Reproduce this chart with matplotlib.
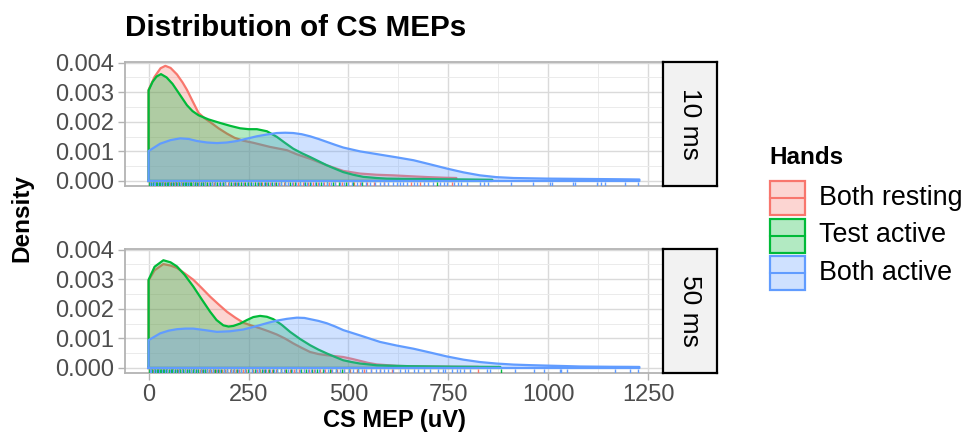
import matplotlib
matplotlib.use("Agg")
import matplotlib.pyplot as plt
from matplotlib.patches import Rectangle
from matplotlib.lines import Line2D
from matplotlib.ticker import MultipleLocator, FormatStrFormatter

plt.rcParams['font.family'] = ['Liberation Sans', 'DejaVu Sans']

# =========================
# Data
# =========================

GROUPS = ["Both resting", "Test active", "Both active"]
COLORS = ["#F8766D", "#00BA38", "#619CFF"]
PANELS = ["10 ms", "50 ms"]

# densities are in units of 1e-3
# --- 10 ms ---
red_10_x = [0, 15, 30, 42, 55, 71, 85, 96, 110, 125, 140, 154, 175, 196, 215, 237, 262, 304,
            346, 371, 404, 446, 487, 529, 571, 612, 654, 700, 740, 770]
red_10_y = [3.08, 3.52, 3.81, 3.89, 3.82, 3.60, 3.33, 3.08, 2.70, 2.30, 2.12, 1.99, 1.78, 1.60,
            1.46, 1.36, 1.29, 1.15, 1.04, 0.90, 0.75, 0.53, 0.34, 0.25, 0.21, 0.19, 0.16, 0.13,
            0.11, 0.10]
green_10_x = [0, 10, 20, 31, 45, 60, 71, 85, 96, 110, 125, 150, 179, 205, 229, 250, 271, 296,
              321, 340, 362, 383, 404, 425, 446, 467, 487, 512, 537, 570, 596, 650, 720, 800, 860]
green_10_y = [3.06, 3.35, 3.53, 3.61, 3.50, 3.28, 3.06, 2.78, 2.56, 2.36, 2.22, 2.08, 1.96, 1.86,
              1.78, 1.75, 1.75, 1.68, 1.49, 1.30, 1.09, 0.94, 0.81, 0.67, 0.53, 0.41, 0.30, 0.21,
              0.14, 0.10, 0.08, 0.07, 0.06, 0.05, 0.04]
blue_10_x = [0, 29, 55, 79, 100, 121, 146, 171, 196, 221, 246, 271, 296, 321, 342, 362, 383,
             404, 425, 446, 467, 487, 529, 579, 620, 663, 705, 746, 788, 829, 870, 913, 955, 996,
             1040, 1079, 1120, 1163, 1200, 1228]
blue_10_y = [1.01, 1.26, 1.38, 1.44, 1.42, 1.35, 1.30, 1.28, 1.30, 1.35, 1.43, 1.51, 1.57, 1.62,
             1.63, 1.62, 1.58, 1.51, 1.42, 1.32, 1.22, 1.13, 1.00, 0.89, 0.80, 0.70, 0.56, 0.42,
             0.29, 0.19, 0.13, 0.10, 0.09, 0.08, 0.075, 0.07, 0.065, 0.06, 0.055, 0.05]

# --- 50 ms ---
red_50_x = [0, 15, 37, 55, 71, 90, 112, 133, 154, 175, 196, 217, 237, 258, 279, 300, 321, 342,
            362, 383, 404, 425, 446, 467, 487, 508, 529, 550, 571, 621, 654, 700, 760, 825]
red_50_y = [2.96, 3.30, 3.51, 3.46, 3.38, 3.20, 2.98, 2.70, 2.41, 2.15, 1.90, 1.70, 1.53, 1.43,
            1.34, 1.24, 1.13, 0.99, 0.83, 0.68, 0.54, 0.47, 0.43, 0.40, 0.37, 0.31, 0.24, 0.17,
            0.12, 0.07, 0.06, 0.05, 0.04, 0.035]
green_50_x = [0, 15, 37, 55, 71, 90, 112, 133, 154, 170, 187, 200, 212, 229, 246, 262, 279, 296,
              312, 333, 354, 379, 404, 425, 446, 467, 487, 508, 529, 571, 654, 760, 880]
green_50_y = [2.98, 3.42, 3.64, 3.57, 3.43, 3.15, 2.75, 2.32, 1.90, 1.62, 1.44, 1.40, 1.42, 1.50,
              1.62, 1.72, 1.76, 1.73, 1.65, 1.46, 1.22, 0.98, 0.77, 0.62, 0.49, 0.37, 0.26, 0.20,
              0.15, 0.09, 0.06, 0.045, 0.035]
blue_50_x = [0, 29, 50, 71, 92, 112, 140, 171, 204, 237, 258, 279, 300, 321, 346, 371, 390, 404,
             425, 446, 467, 487, 529, 579, 620, 663, 705, 746, 788, 829, 870, 913, 955, 996, 1040,
             1079, 1120, 1163, 1200, 1228]
blue_50_y = [0.94, 1.17, 1.26, 1.31, 1.33, 1.33, 1.28, 1.22, 1.24, 1.30, 1.37, 1.45, 1.53, 1.60,
             1.66, 1.70, 1.69, 1.65, 1.59, 1.51, 1.40, 1.28, 1.10, 0.88, 0.76, 0.65, 0.52, 0.39,
             0.28, 0.20, 0.15, 0.114, 0.095, 0.08, 0.065, 0.05, 0.045, 0.04, 0.038, 0.035]

# rug positions (uV)
red_10_rug = [1, 3, 7, 11, 15, 19, 22, 26, 30, 34, 38, 41, 45, 49, 53, 57, 61, 64, 68, 72, 76,
              80, 84, 89, 93, 97, 102, 106, 110, 115, 119, 124, 130, 136, 141, 147, 152, 158,
              164, 171, 178, 185, 192, 199, 206, 214, 222, 231, 239, 248, 257, 266, 275, 284,
              294, 305, 316, 327, 338, 350, 361, 373, 386, 398, 411, 424, 438, 452, 467, 483,
              498, 514, 530, 546, 563, 590, 656, 678, 758]
green_10_rug = [2, 6, 10, 14, 18, 22, 25, 29, 33, 37, 41, 45, 48, 52, 56, 61, 65, 69, 73, 77,
                81, 85, 90, 94, 98, 103, 107, 111, 116, 121, 126, 131, 136, 142, 147, 153, 159,
                166, 172, 178, 185, 192, 200, 207, 215, 223, 231, 240, 248, 257, 265, 274, 282,
                291, 300, 310, 320, 331, 342, 354, 366, 378, 391, 404, 418, 431, 446, 461, 477,
                494, 512, 535, 721]
blue_10_rug = [4, 8, 13, 17, 24, 31, 37, 44, 51, 58, 65, 73, 80, 88, 95, 102, 110, 118, 126,
               134, 142, 150, 159, 167, 175, 183, 192, 201, 210, 219, 227, 236, 245, 253, 262,
               271, 280, 288, 297, 306, 314, 323, 332, 341, 350, 360, 369, 378, 388, 397, 407,
               416, 426, 436, 446, 457, 467, 478, 488, 499, 510, 521, 532, 543, 555, 566, 578,
               589, 600, 611, 621, 629, 636, 646, 663, 671, 688, 698, 711, 729, 738, 746, 763,
               775, 781, 796, 828, 838, 849, 907, 961, 1004, 1010, 1063, 1068, 1121, 1132, 1142,
               1193, 1224]

red_50_rug = [2, 4, 8, 12, 16, 20, 23, 27, 31, 35, 39, 43, 47, 51, 55, 58, 62, 66, 70, 74, 78,
              83, 87, 92, 96, 100, 105, 110, 114, 119, 124, 129, 134, 140, 145, 151, 157, 163,
              169, 176, 183, 190, 197, 204, 211, 219, 227, 235, 243, 252, 261, 270, 279, 289,
              299, 309, 320, 331, 342, 353, 365, 377, 389, 402, 415, 428, 442, 457, 472, 489,
              505, 521, 538, 556, 580, 610, 825]
green_50_rug = [1, 5, 9, 13, 17, 21, 24, 28, 32, 36, 39, 43, 47, 51, 55, 59, 62, 66, 70, 75, 79,
                83, 87, 92, 96, 101, 105, 110, 114, 119, 124, 130, 135, 141, 147, 154, 160, 167,
                174, 181, 189, 197, 205, 213, 222, 231, 240, 249, 258, 266, 275, 283, 292, 301,
                311, 321, 332, 344, 356, 368, 381, 394, 408, 422, 437, 453, 469, 485, 502, 525,
                882]
blue_50_rug = [3, 7, 13, 19, 26, 33, 40, 47, 54, 61, 68, 76, 83, 91, 98, 106, 114, 122, 130, 138,
               146, 154, 162, 171, 179, 188, 196, 205, 214, 223, 232, 241, 250, 259, 268, 277,
               286, 295, 304, 313, 322, 331, 340, 350, 359, 369, 378, 388, 398, 407, 417, 427,
               438, 448, 459, 469, 480, 490, 501, 512, 523, 534, 545, 557, 568, 580, 589, 598,
               612, 628, 642, 650, 664, 675, 688, 703, 725, 736, 742, 758, 771, 779, 789, 804,
               846, 854, 917, 965, 989, 1029, 1033, 1046, 1168, 1204, 1225]

CURVES = {
    "10 ms": [(red_10_x, red_10_y), (green_10_x, green_10_y), (blue_10_x, blue_10_y)],
    "50 ms": [(red_50_x, red_50_y), (green_50_x, green_50_y), (blue_50_x, blue_50_y)],
}
RUGS = {
    "10 ms": [red_10_rug, green_10_rug, blue_10_rug],
    "50 ms": [red_50_rug, green_50_rug, blue_50_rug],
}

X_TICKS = [0, 250, 500, 750, 1000, 1250]


# =========================
# Figure
# =========================

W, H = 967, 442
fig = plt.figure(figsize=(W / 100, H / 100), dpi=100)


def px_box(left, top, right, bottom):
    # pixel box -> figure fraction
    return [left / W, 1 - bottom / H, (right - left) / W, (bottom - top) / H]


panel_boxes = [(125, 62, 663, 186), (125, 249, 663, 373)]
GRID_MAJ = "#DADADA"
GRID_MIN = "#EBEBEB"
BORDER = "#B3B3B3"

for i, panel in enumerate(PANELS):
    l, t, r, b = panel_boxes[i]
    ax = fig.add_axes(px_box(l, t, r, b))
    ax.set_xlim(-59, 1287)
    ax.set_ylim(-0.00017, 0.00402)

    # grille
    ax.xaxis.set_major_locator(MultipleLocator(250))
    ax.xaxis.set_minor_locator(MultipleLocator(125))
    ax.yaxis.set_major_locator(MultipleLocator(0.001))
    ax.yaxis.set_minor_locator(MultipleLocator(0.0005))
    ax.grid(which="major", color=GRID_MAJ, lw=1.0)
    ax.grid(which="minor", color=GRID_MIN, lw=0.7)
    ax.set_axisbelow(True)

    # densites
    for (xs, ys), col in zip(CURVES[panel], COLORS):
        yy = [v / 1000 for v in ys]
        px = [xs[0]] + xs + [xs[-1]]
        py = [0] + yy + [0]
        ax.fill(px, py, facecolor=col, alpha=0.3, edgecolor="none", zorder=2)
        ax.plot(px + [px[0]], py + [py[0]], color=col, lw=1.6, zorder=2,
                solid_joinstyle="round")

    # rug
    for rug, col in zip(RUGS[panel], COLORS):
        ax.vlines(rug, 0, 0.03, transform=ax.get_xaxis_transform(), color=col, lw=1.0, zorder=3)

    for sp in ax.spines.values():
        sp.set_color(BORDER)
        sp.set_linewidth(1.3)

    ax.yaxis.set_major_formatter(FormatStrFormatter("%.3f"))
    ax.tick_params(axis="both", which="major", length=5, width=1.0, color=BORDER,
                   labelsize=17, labelcolor="#4D4D4D", pad=3)
    ax.tick_params(which="minor", length=0)
    ax.set_xticks(X_TICKS)
    if i == 0:
        ax.tick_params(axis="x", labelbottom=False, length=0)

    # strip a droite
    sax = fig.add_axes(px_box(663, t, 717, b))
    sax.set_xticks([])
    sax.set_yticks([])
    sax.set_facecolor("#F2F2F2")
    for sp in sax.spines.values():
        sp.set_color("black")
        sp.set_linewidth(1.6)
    sax.text(0.5, 0.5, panel, rotation=-90, ha="center", va="center", fontsize=19,
             transform=sax.transAxes)

# titres
fig.text(125 / W, 1 - 28 / H, "Distribution of CS MEPs", fontsize=21.3, fontweight="bold",
         ha="left", va="center")
fig.text(394 / W, 1 - 420 / H, "CS MEP (uV)", fontsize=17, fontweight="bold",
         ha="center", va="center")
fig.text(22 / W, 1 - 218 / H, "Density", fontsize=17.5, fontweight="bold", rotation=90,
         ha="center", va="center")

# =========================
# Legende
# =========================
lax = fig.add_axes([0, 0, 1, 1])
lax.set_xlim(0, W)
lax.set_ylim(H, 0)
lax.axis("off")
lax.text(769, 157, "Hands", fontsize=17.5, fontweight="bold", ha="left", va="center")
key_tops = [181, 218.5, 256]
for name, col, kt in zip(GROUPS, COLORS, key_tops):
    lax.add_patch(Rectangle((770, kt), 35, 34, facecolor=col, alpha=0.3, edgecolor="none"))
    lax.add_patch(Rectangle((770, kt), 35, 34, facecolor="none", edgecolor=col, lw=1.6))
    lax.add_line(Line2D([770, 805], [kt + 17, kt + 17], color=col, lw=1.5))
    lax.text(819, kt + 17, name, fontsize=19.4, ha="left", va="center")

fig.savefig("out.png", dpi=100)
